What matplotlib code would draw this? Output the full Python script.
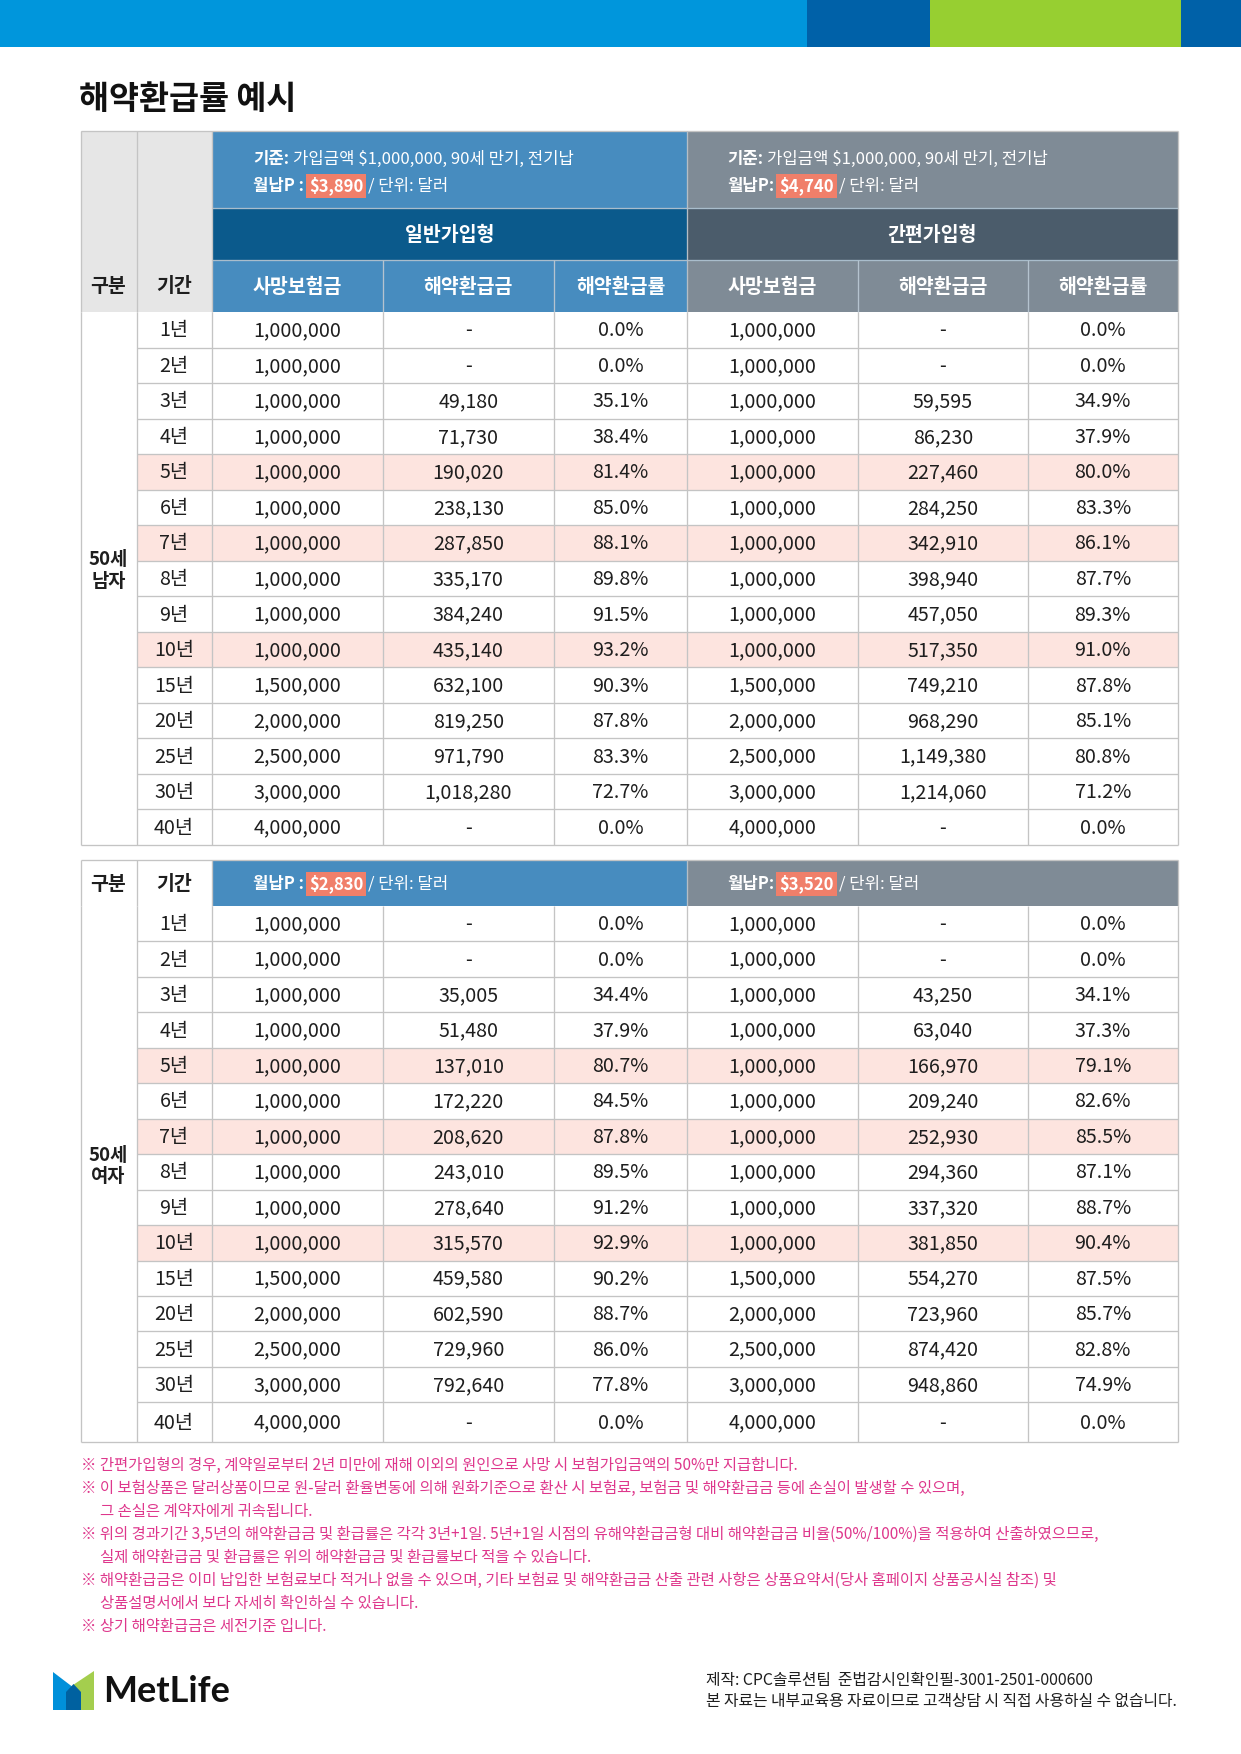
import numpy as np
import matplotlib
matplotlib.use("Agg")
from matplotlib import pyplot as plt
from matplotlib.patches import Rectangle, Polygon

plt.rcParams['font.family'] = ['Noto Sans CJK KR', 'DejaVu Sans']

# ---- data ----
periods = ['1년', '2년', '3년', '4년', '5년', '6년', '7년', '8년', '9년', '10년',
           '15년', '20년', '25년', '30년', '40년']
death_benefit = [1000000] * 10 + [1500000, 2000000, 2500000, 3000000, 4000000]
highlight_rows = ['5년', '7년', '10년']

male_gen_refund = [None, None, 49180, 71730, 190020, 238130, 287850, 335170, 384240,
                   435140, 632100, 819250, 971790, 1018280, None]
male_gen_rate = [0.0, 0.0, 35.1, 38.4, 81.4, 85.0, 88.1, 89.8, 91.5, 93.2, 90.3, 87.8,
                 83.3, 72.7, 0.0]
male_simple_refund = [None, None, 59595, 86230, 227460, 284250, 342910, 398940, 457050,
                      517350, 749210, 968290, 1149380, 1214060, None]
male_simple_rate = [0.0, 0.0, 34.9, 37.9, 80.0, 83.3, 86.1, 87.7, 89.3, 91.0, 87.8, 85.1,
                    80.8, 71.2, 0.0]

female_gen_refund = [None, None, 35005, 51480, 137010, 172220, 208620, 243010, 278640,
                     315570, 459580, 602590, 729960, 792640, None]
female_gen_rate = [0.0, 0.0, 34.4, 37.9, 80.7, 84.5, 87.8, 89.5, 91.2, 92.9, 90.2, 88.7,
                   86.0, 77.8, 0.0]
female_simple_refund = [None, None, 43250, 63040, 166970, 209240, 252930, 294360, 337320,
                        381850, 554270, 723960, 874420, 948860, None]
female_simple_rate = [0.0, 0.0, 34.1, 37.3, 79.1, 82.6, 85.5, 87.1, 88.7, 90.4, 87.5, 85.7,
                      82.8, 74.9, 0.0]

col_titles = ['사망보험금', '해약환급금', '해약환급률']
premium_male = ['$3,890', '$4,740']
premium_female = ['$2,830', '$3,520']

notes = [
    ('※ 간편가입형의 경우, 계약일로부터 2년 미만에 재해 이외의 원인으로 사망 시 보험가입금액의 50%만 지급합니다.', False),
    ('※ 이 보험상품은 달러상품이므로 원-달러 환율변동에 의해 원화기준으로 환산 시 보험료, 보험금 및 해약환급금 등에 손실이 발생할 수 있으며,', False),
    ('그 손실은 계약자에게 귀속됩니다.', True),
    ('※ 위의 경과기간 3,5년의 해약환급금 및 환급률은 각각 3년+1일. 5년+1일 시점의 유해약환급금형 대비 해약환급금 비율(50%/100%)을 적용하여 산출하였으므로,', False),
    ('실제 해약환급금 및 환급률은 위의 해약환급금 및 환급률보다 적을 수 있습니다.', True),
    ('※ 해약환급금은 이미 납입한 보험료보다 적거나 없을 수 있으며, 기타 보험료 및 해약환급금 산출 관련 사항은 상품요약서(당사 홈페이지 상품공시실 참조) 및', False),
    ('상품설명서에서 보다 자세히 확인하실 수 있습니다.', True),
    ('※ 상기 해약환급금은 세전기준 입니다.', False),
]

# ---- colours ----
C_BLUE = '#478CBF'
C_BLUE_DK = '#0B5A8C'
C_GREY = '#7F8B96'
C_GREY_DK = '#4B5C6B'
C_HEAD = '#E6E6E6'
C_PINK = '#FDE4DF'
C_SALMON = '#F07F6A'
C_LINE = '#C4C4C4'
C_NOTE = '#DE378C'
C_TXT = '#1E1E1E'

W, H = 1241, 1754
fig = plt.figure(figsize=(W / 100, H / 100), dpi=100)
ax = fig.add_axes([0, 0, 1, 1])
ax.set_xlim(0, W)
ax.set_ylim(H, 0)
ax.axis('off')
renderer = fig.canvas.get_renderer()

xs = [80.5, 136.5, 211.5, 382.7, 553.9, 687, 858, 1028, 1177.5]
LW = 0.95


def rect(x0, y0, x1, y1, color, z=1):
    ax.add_patch(Rectangle((x0, y0), x1 - x0, y1 - y0, facecolor=color,
                           edgecolor='none', zorder=z))


def hline(y, x0, x1, color=C_LINE, z=3):
    ax.plot([x0, x1], [y, y], color=color, lw=LW, zorder=z, solid_capstyle='butt')


def vline(x, y0, y1, color=C_LINE, z=3):
    ax.plot([x, x], [y0, y1], color=color, lw=LW, zorder=z, solid_capstyle='butt')


def rich(x, y, parts, size=12):
    # parts: (text, weight, salmon box, gap after)
    for text, weight, box, gap in parts:
        kw = {}
        if box:
            kw['bbox'] = dict(boxstyle='square,pad=0.18', facecolor=C_SALMON,
                              edgecolor='none')
        t = ax.text(x, y, text, fontsize=size, fontweight=weight, color='white',
                    ha='left', va='center', zorder=6, **kw)
        bb = t.get_window_extent(renderer=renderer)
        x += bb.width + gap


def fmt(v):
    return '-' if v is None else f'{v:,}'


# ---- top bar ----
for x0, x1, c in [(0, 807, '#0096DC'), (807, 930, '#0061A8'),
                  (930, 1181, '#97CF31'), (1181, W, '#0061A8')]:
    rect(x0, 0, x1, 47, c)

ax.text(79, 100, '해약환급률 예시', fontsize=23.5, fontweight='bold', color='#111111',
        ha='left', va='center')


def draw_body(row_edges, gen_refund, gen_rate, simple_refund, simple_rate, label):
    n = len(periods)
    centers = [(row_edges[i] + row_edges[i + 1]) / 2 for i in range(n)]
    for i, p in enumerate(periods):
        if p in highlight_rows:
            rect(xs[1], row_edges[i], xs[-1], row_edges[i + 1], C_PINK)
    vals = zip(periods, death_benefit, gen_refund, gen_rate, death_benefit,
               simple_refund, simple_rate)
    for i, row in enumerate(vals):
        cells = [row[0], fmt(row[1]), fmt(row[2]), f'{row[3]:.1f}%',
                 fmt(row[4]), fmt(row[5]), f'{row[6]:.1f}%']
        for j, s in enumerate(cells):
            ax.text((xs[j + 1] + xs[j + 2]) / 2, centers[i] + 1, s, fontsize=14.2,
                    color=C_TXT, ha='center', va='center', zorder=5)
    for y in row_edges[1:-1]:
        hline(y, xs[1], xs[-1])
    hline(row_edges[-1], xs[0], xs[-1])
    for x in xs:
        vline(x, row_edges[0], row_edges[-1])
    mid = (row_edges[0] + row_edges[-1]) / 2 - 8
    ax.text((xs[0] + xs[1]) / 2, mid, label, fontsize=13.5, fontweight='bold',
            color=C_TXT, ha='center', va='center', linespacing=1.15, zorder=5)


# ---- table 1 (50세 남자) ----
t1 = [131, 208, 260, 312]
rect(xs[0], t1[0], xs[2], t1[3], C_HEAD)
rect(xs[2], t1[0], xs[5], t1[1], C_BLUE)
rect(xs[2], t1[1], xs[5], t1[2], C_BLUE_DK)
rect(xs[2], t1[2], xs[5], t1[3], C_BLUE)
rect(xs[5], t1[0], xs[-1], t1[1], C_GREY)
rect(xs[5], t1[1], xs[-1], t1[2], C_GREY_DK)
rect(xs[5], t1[2], xs[-1], t1[3], C_GREY)
hline(t1[0], xs[0], xs[-1])
hline(t1[1], xs[2], xs[-1], '#A9BDCC')
hline(t1[2], xs[2], xs[-1], '#A9BDCC')
for x in xs[:3] + [xs[-1]]:
    vline(x, t1[0], t1[3])
vline(xs[5], t1[0], t1[3], '#B5BEC6')
for x in [xs[3], xs[4], xs[6], xs[7]]:
    vline(x, t1[2], t1[3], '#B5C3CF')

hc = (t1[2] + t1[3]) / 2 + 1
ax.text((xs[0] + xs[1]) / 2, hc, '구분', fontsize=14, fontweight='bold', color=C_TXT,
        ha='center', va='center', zorder=5)
ax.text((xs[1] + xs[2]) / 2, hc, '기간', fontsize=14, fontweight='bold', color=C_TXT,
        ha='center', va='center', zorder=5)
for j, s in enumerate(col_titles * 2):
    ax.text((xs[j + 2] + xs[j + 3]) / 2, hc, s, fontsize=14, fontweight='bold',
            color='white', ha='center', va='center', zorder=5)
for x0, x1, s in [(xs[2], xs[5], '일반가입형'), (xs[5], xs[-1], '간편가입형')]:
    ax.text((x0 + x1) / 2, (t1[1] + t1[2]) / 2 + 1, s, fontsize=14, fontweight='bold',
            color='white', ha='center', va='center', zorder=5)

for x0, sep, prem in [(253, ' :', premium_male[0]), (727, ':', premium_male[1])]:
    rich(x0, 159, [('기준:', 'bold', False, 4),
                   ('가입금액 $1,000,000, 90세 만기, 전기납', 'normal', False, 0)])
    rich(x0, 186, [('월납P' + sep, 'bold', False, 5), (prem, 'bold', True, 5),
                   ('/ 단위: 달러', 'normal', False, 0)])

draw_body(list(np.linspace(312, 845, 16)), male_gen_refund, male_gen_rate,
          male_simple_refund, male_simple_rate, '50세\n남자')

# ---- table 2 (50세 여자) ----
t2 = [860, 906]
rect(xs[2], t2[0], xs[5], t2[1], C_BLUE)
rect(xs[5], t2[0], xs[-1], t2[1], C_GREY)
hline(t2[0], xs[0], xs[-1])
for x in xs[:3] + [xs[-1]]:
    vline(x, t2[0], t2[1])
vline(xs[5], t2[0], t2[1], '#B5BEC6')
hc2 = (t2[0] + t2[1]) / 2 + 1
ax.text((xs[0] + xs[1]) / 2, hc2, '구분', fontsize=14, fontweight='bold', color=C_TXT,
        ha='center', va='center', zorder=5)
ax.text((xs[1] + xs[2]) / 2, hc2, '기간', fontsize=14, fontweight='bold', color=C_TXT,
        ha='center', va='center', zorder=5)
for x0, sep, prem in [(253, ' :', premium_female[0]), (727, ':', premium_female[1])]:
    rich(x0, hc2, [('월납P' + sep, 'bold', False, 5), (prem, 'bold', True, 5),
                   ('/ 단위: 달러', 'normal', False, 0)])

edges2 = list(np.linspace(906, 1402.3, 15)) + [1442]
draw_body(edges2, female_gen_refund, female_gen_rate, female_simple_refund,
          female_simple_rate, '50세\n여자')

# ---- notes ----
ny = 1465
for text, indent in notes:
    ax.text(100 if indent else 81, ny, text, fontsize=11.1, color=C_NOTE,
            ha='left', va='center')
    ny += 23.1

# ---- footer ----
ax.add_patch(Polygon([(53, 1672), (53, 1710), (74, 1710), (74, 1688)],
                     closed=True, facecolor='#0090DA', edgecolor='none'))
ax.add_patch(Polygon([(94, 1671), (94, 1710), (73, 1710), (73, 1685)],
                     closed=True, facecolor='#A4CE4E', edgecolor='none'))
ax.add_patch(Polygon([(66, 1710), (66, 1692), (73.5, 1684), (81, 1692), (81, 1710)],
                     closed=True, facecolor='#0061A0', edgecolor='none'))
ax.text(103, 1692, 'MetLife', fontsize=26, fontweight='bold', color='#111111',
        family=['Lato', 'DejaVu Sans'], ha='left', va='center')

ax.text(706, 1681, '제작: CPC솔루션팀  준법감시인확인필-3001-2501-000600', fontsize=11.4,
        color=C_TXT, ha='left', va='center')
ax.text(706, 1701, '본 자료는 내부교육용 자료이므로 고객상담 시 직접 사용하실 수 없습니다.',
        fontsize=11.4, color=C_TXT, ha='left', va='center')

fig.savefig('out.png', dpi=100)
